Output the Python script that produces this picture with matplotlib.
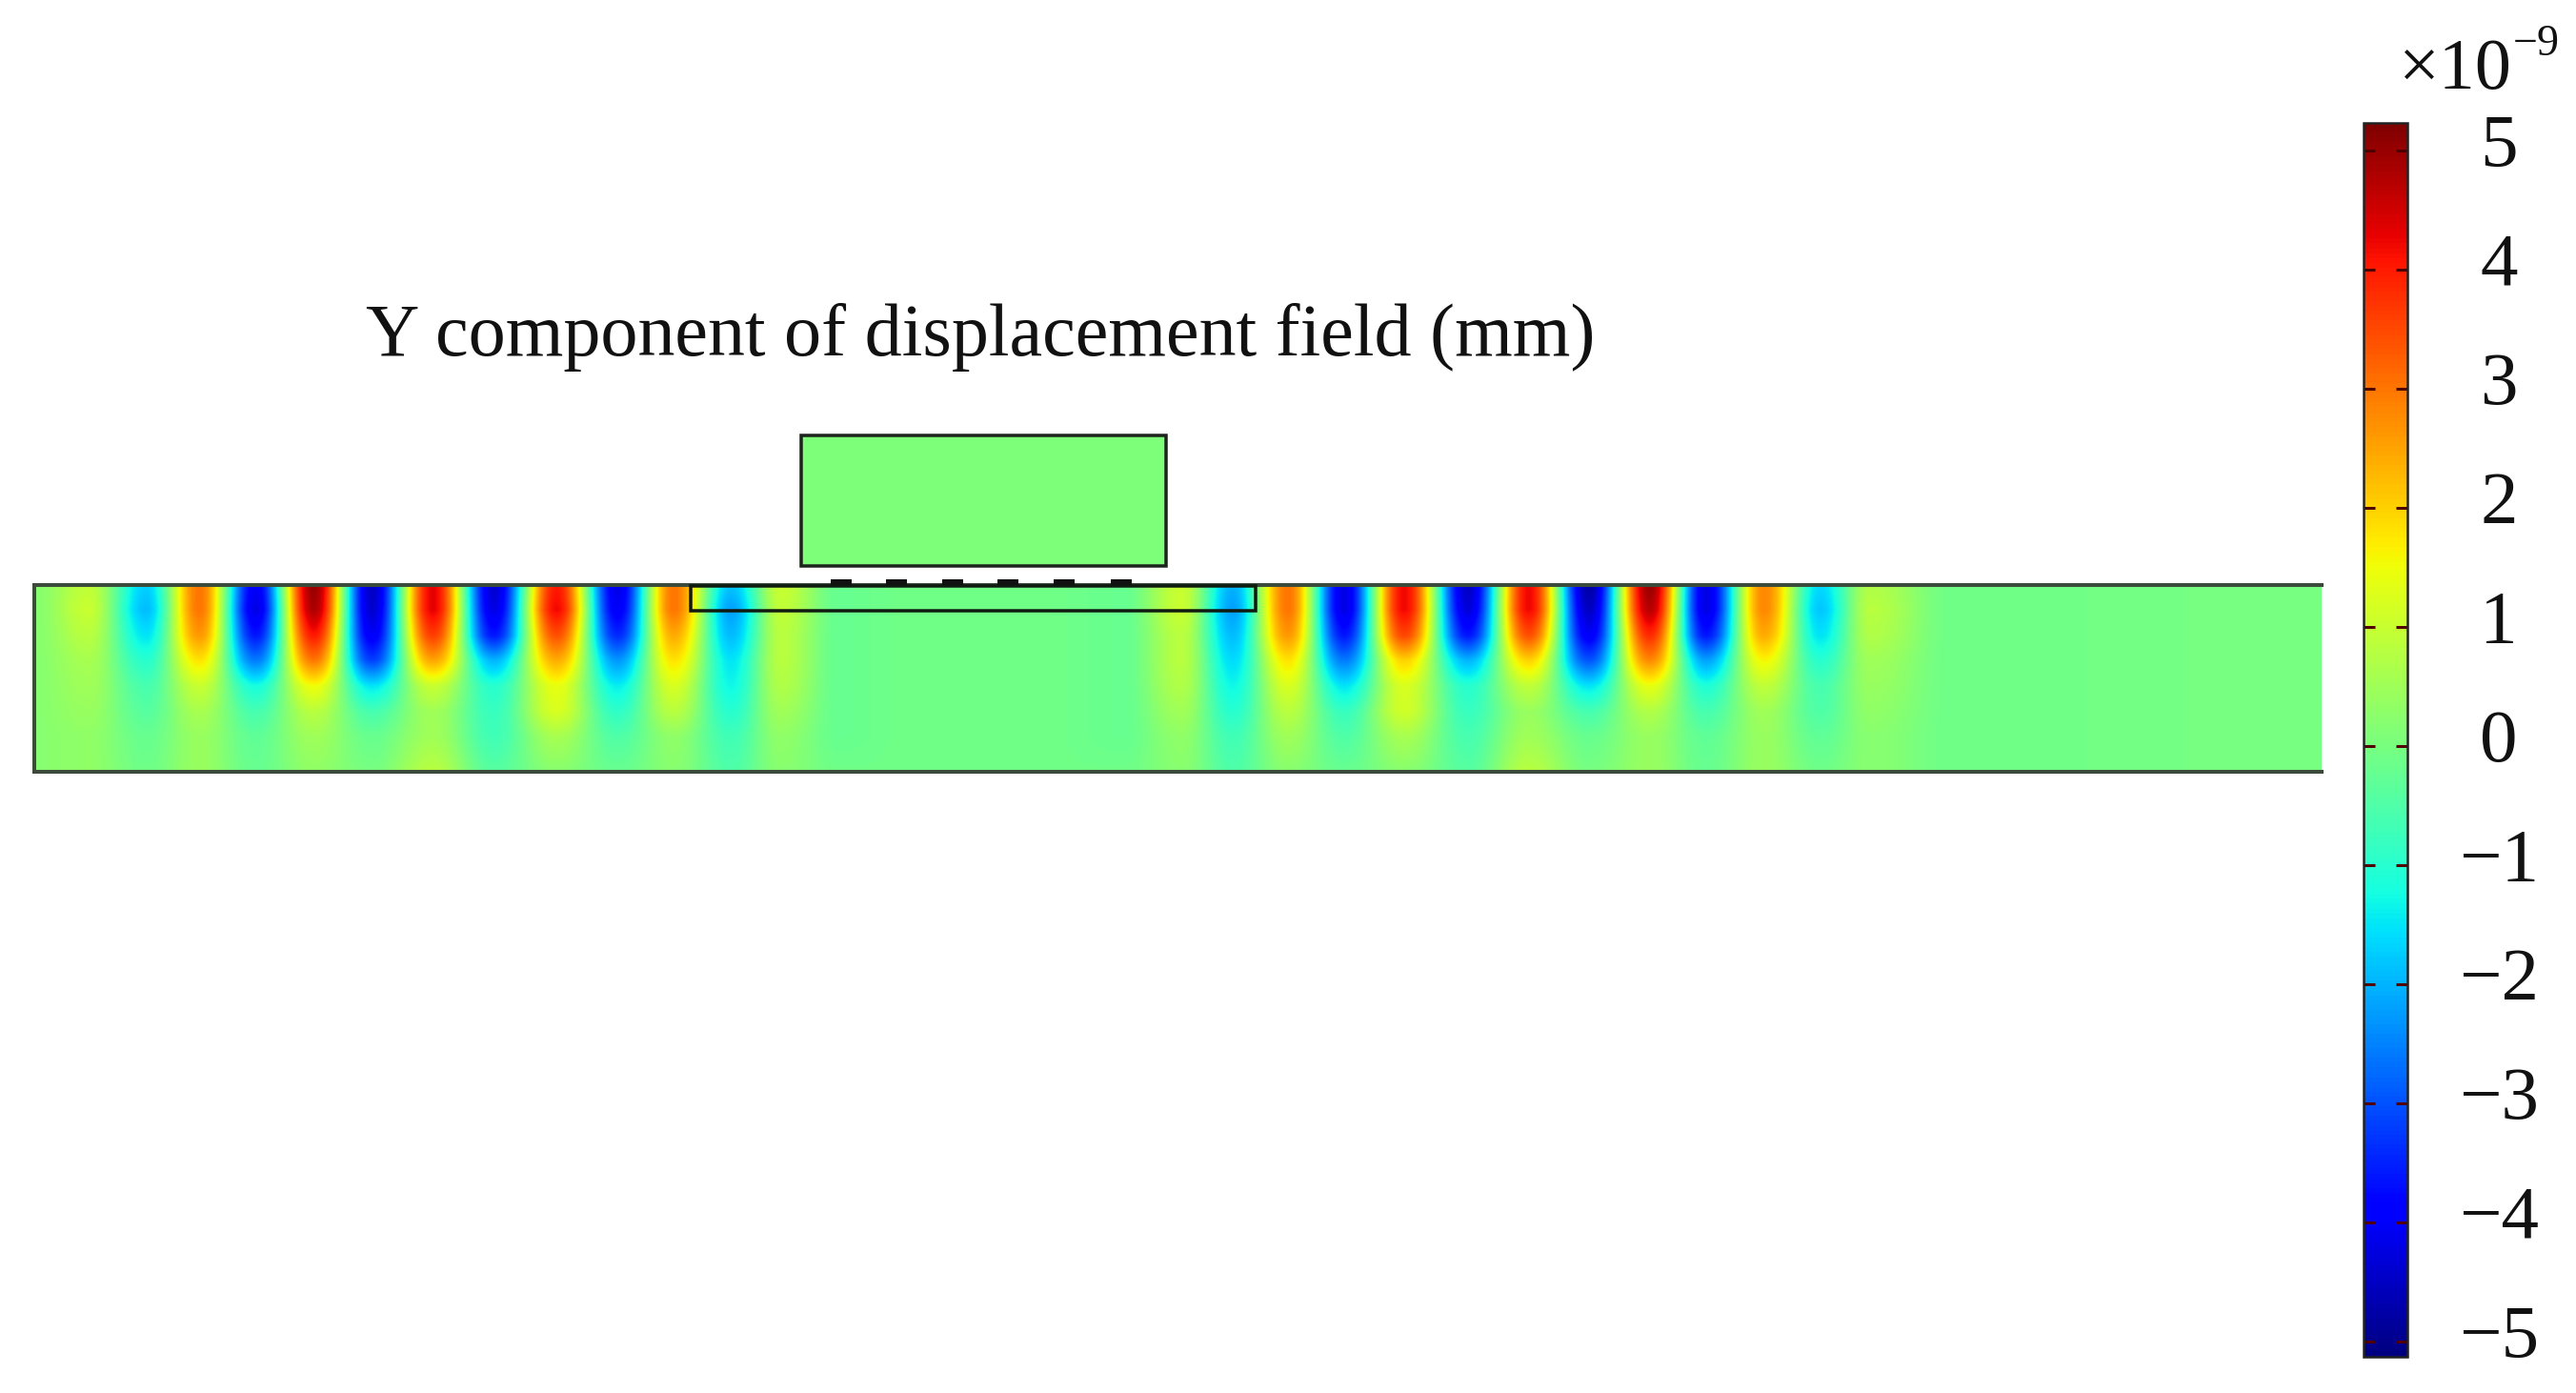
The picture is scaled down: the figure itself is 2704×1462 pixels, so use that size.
import numpy as np
import matplotlib
matplotlib.use("Agg")
import matplotlib.pyplot as plt
from matplotlib.patches import Rectangle

plt.rcParams['font.family'] = ['Liberation Serif', 'DejaVu Serif']

# Field readings (unit 1e-9 mm): one list per depth, one value per lobe position
lobe_x = [36, 92, 153, 209, 268, 329, 390, 454, 518, 584, 648, 707, 767, 820, 880, 950,
          1100, 1180, 1240, 1294, 1352, 1411, 1474, 1541, 1605, 1668, 1732, 1791, 1852,
          1911, 1964, 2050, 2437]
depth_frac = [0.0, 0.13, 0.27, 0.40, 0.54, 0.68, 0.81, 1.0]
d0 = [0.2, 0.9, -1.7, 3.0, -4.0, 5.0, -4.5, 4.3, -4.4, 4.0, -4.2, 3.0, -1.8, 1.0, -0.2, -0.1,
      -0.1, -0.2, 1.0, -2.0, 3.0, -4.2, 4.2, -4.5, 4.2, -4.8, 5.0, -4.2, 2.8, -1.6, 0.7, -0.1, 0.0]
d1 = [0.2, 1.0, -1.9, 3.0, -4.2, 4.8, -4.4, 4.3, -4.2, 4.2, -4.0, 3.0, -2.2, 0.9, -0.2, -0.1,
      -0.1, -0.2, 1.0, -2.2, 3.0, -4.2, 4.2, -4.3, 4.2, -4.5, 4.7, -4.2, 2.8, -1.8, 0.8, -0.1, 0.0]
d2 = [0.2, 0.8, -1.5, 2.6, -3.6, 4.0, -4.0, 3.6, -3.6, 3.4, -3.4, 2.4, -1.9, 0.8, -0.2, -0.1,
      -0.1, -0.2, 0.8, -1.9, 2.6, -3.6, 3.5, -3.6, 3.4, -4.0, 3.8, -3.6, 2.4, -1.5, 0.7, -0.1, 0.0]
d3 = [0.2, 0.6, -1.0, 1.8, -2.6, 3.0, -3.2, 2.5, -2.0, 2.4, -2.3, 1.8, -1.5, 0.8, -0.2, -0.1,
      -0.1, -0.2, 0.8, -1.6, 1.8, -2.6, 2.0, -2.0, 2.0, -3.0, 2.8, -2.2, 1.6, -1.0, 0.5, -0.1, 0.0]
d4 = [0.2, 0.5, -0.6, 1.0, -1.2, 1.5, -1.5, 1.0, -1.0, 1.4, -1.4, 1.2, -1.3, 0.7, -0.2, -0.1,
      -0.1, -0.2, 0.7, -1.3, 1.2, -1.5, 1.2, -1.0, 0.9, -1.5, 1.4, -1.1, 0.9, -0.6, 0.4, -0.1, 0.0]
d5 = [0.2, 0.4, -0.4, 0.6, -0.6, 0.8, -0.6, 0.5, -0.8, 1.2, -0.9, 0.8, -1.0, 0.5, -0.2, -0.1,
      -0.1, -0.2, 0.5, -1.0, 0.8, -0.8, 1.1, -0.8, 0.4, -0.6, 0.7, -0.6, 0.5, -0.5, 0.3, -0.1, 0.0]
d6 = [0.2, 0.3, -0.2, 0.4, -0.3, 0.5, -0.2, 0.5, -0.7, 0.6, -0.5, 0.3, -0.7, 0.3, -0.2, -0.1,
      -0.1, -0.2, 0.3, -0.7, 0.5, -0.5, 0.6, -0.6, 0.5, -0.2, 0.4, -0.3, 0.4, -0.3, 0.2, -0.1, 0.0]
d7 = [0.2, 0.3, -0.1, 0.4, -0.2, 0.3, 0.0, 0.8, -0.4, 0.2, -0.2, 0.2, -0.5, 0.2, -0.1, -0.1,
      -0.1, -0.1, 0.2, -0.5, 0.2, -0.2, 0.2, -0.4, 0.8, 0.0, 0.4, -0.2, 0.4, -0.1, 0.2, -0.1, 0.0]
depth_rows = [d0, d1, d2, d3, d4, d5, d6, d7]

cbar_ticks = [5, 4, 3, 2, 1, 0, -1, -2, -3, -4, -5]
cbar_labels = ['5', '4', '3', '2', '1', '0', '\u22121', '\u22122', '\u22123', '\u22124', '\u22125']
title_text = 'Y component of displacement field (mm)'
idt_x = [883, 941, 1000, 1058, 1117, 1177]

W, H = 2704, 1462
PL, PR, PT, PB = 36, 2437, 614, 810      # plate
px = lambda p: p * 72 / 100

fig = plt.figure(figsize=(W / 100, H / 100), dpi=100, facecolor='white')
ax = fig.add_axes([0, 0, 1, 1])
ax.set_xlim(0, W)
ax.set_ylim(H, 0)
ax.axis('off')

# Turn the lobe table into a smooth image
xs = np.arange(PL, PR + 1)
lx = np.array(lobe_x, float)
idx = np.clip(np.searchsorted(lx, xs, side='right') - 1, 0, len(lx) - 2)
t = (xs - lx[idx]) / (lx[idx + 1] - lx[idx])
ease = (1 - np.cos(np.pi * t)) / 2
tbl = np.array(depth_rows, float)
cols = tbl[:, idx] * (1 - ease) + tbl[:, idx + 1] * ease
ys = np.linspace(0, 1, PB - PT + 1)
field = np.array([np.interp(ys, depth_frac, cols[:, j]) for j in range(cols.shape[1])]).T

VMIN, VMAX = -5.13, 5.23
im = ax.imshow(field, extent=(PL, PR, PB, PT), cmap='jet', vmin=VMIN, vmax=VMAX,
               aspect='auto', interpolation='bilinear', zorder=1)
ax.set_xlim(0, W)
ax.set_ylim(H, 0)

edge = '#3c4a3c'
ax.plot([PR, PL, PL, PR], [PT, PT, PB, PB], color=edge, lw=px(4), solid_joinstyle='miter', zorder=3)

# Inner layer, upper block and electrodes
ax.add_patch(Rectangle((725, 615), 593, 26, fc='none', ec='#101a10', lw=px(3.5), zorder=4))
ax.add_patch(Rectangle((841, 457), 383, 137, fc=plt.cm.jet(0.5), ec='#1c241c', lw=px(3.5), zorder=4))
for x in idt_x:
    ax.add_patch(Rectangle((x - 11, 608), 22, 6, fc='#111111', ec='none', zorder=4))

ax.text(1029, 373, title_text, fontsize=px(78), ha='center', va='baseline', color='#111111')

# Colour bar
cax = fig.add_axes([2481 / W, 1 - 1424 / H, 46 / W, (1424 - 129) / H])
cb = fig.colorbar(im, cax=cax)
cb.ax.set_ylim(VMIN, VMAX)
cb.set_ticks(cbar_ticks, labels=[''] * len(cbar_ticks))
cb.ax.tick_params(axis='y', direction='in', length=px(12), width=px(3), color='#500000',
                  left=True, right=True, labelright=False)
cb.outline.set_edgecolor('#222222')
cb.outline.set_linewidth(px(2.5))
for v, lab in zip(cbar_ticks, cbar_labels):
    ax.text(2623, 783 - v * 125 - 3, lab, fontsize=px(79), ha='center', va='center', color='#111111')

ax.text(2518, 93, '\u00d710', fontsize=px(76), ha='left', va='baseline', color='#111111')
ax.text(2638, 58, '\u22129', fontsize=px(46), ha='left', va='baseline', color='#111111')

fig.savefig('out.png', dpi=100, facecolor='white')
